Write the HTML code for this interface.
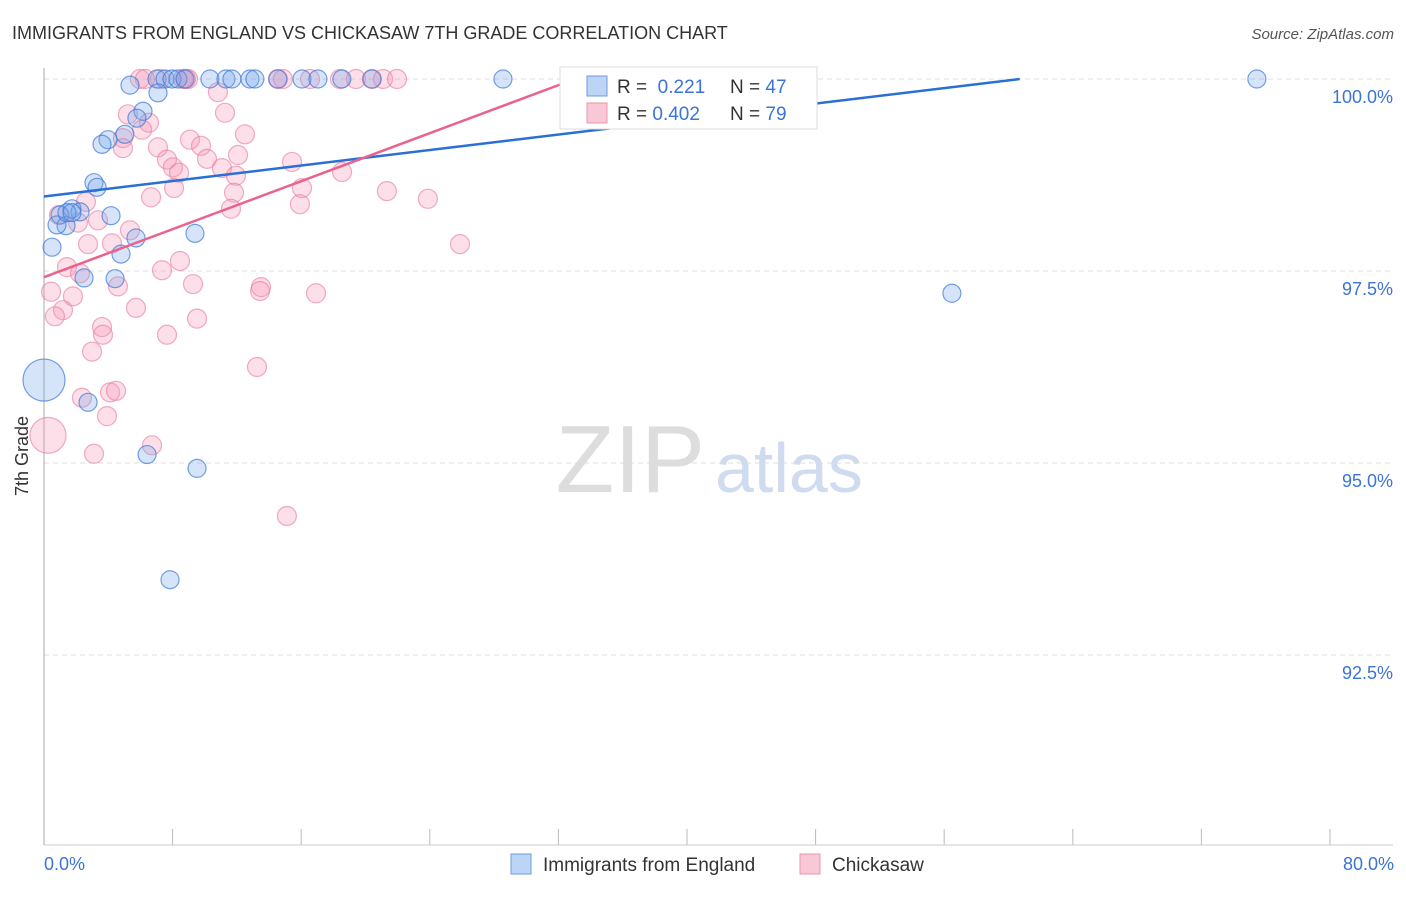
<!DOCTYPE html>
<html><head><meta charset="utf-8"><style>
body{margin:0;background:#fff;font-family:"Liberation Sans",sans-serif}
svg text{font-family:"Liberation Sans",sans-serif}
</style></head><body>
<svg id="c" width="1406" height="892">
<text x="12" y="39" font-size="18" fill="#333">IMMIGRANTS FROM ENGLAND VS CHICKASAW 7TH GRADE CORRELATION CHART</text>
<text x="1394" y="39" font-size="15" fill="#555" text-anchor="end" font-style="italic">Source: ZipAtlas.com</text>
<text x="705" y="492" font-size="96" fill="#ddd" text-anchor="end" font-family="Liberation Serif">ZIP</text>
<text x="715" y="492" font-size="70" fill="#cfdcf0">atlas</text>
<g id="grid"></g>
<line x1="44" y1="68" x2="44" y2="845" stroke="#aaa"/>
<line x1="44" y1="845" x2="1393" y2="845" stroke="#ccc"/>
<text x="28" y="456" font-size="18" fill="#333" text-anchor="middle" transform="rotate(-90 28 456)">7th Grade</text>
<text x="44" y="870" font-size="18" fill="#3b74d6">0.0%</text>
<text x="1394" y="870" font-size="18" fill="#3b74d6" text-anchor="end">80.0%</text>
<g id="pts"></g>
<g id="lines"></g>
<g>
<rect x="560" y="67" width="257" height="62" fill="#fff" stroke="#ddd"/>
<rect x="587" y="76" width="20" height="20" fill="#bcd4f5" stroke="#6b9be0"/>
<rect x="587" y="103" width="20" height="20" fill="#f9c8d6" stroke="#ea94ae"/>
<text x="617" y="93" font-size="19" fill="#333">R = <tspan fill="#3b74d6">&#160;0.221</tspan><tspan x="730">N = </tspan><tspan fill="#3b74d6">47</tspan></text>
<text x="617" y="120" font-size="19" fill="#333">R = <tspan fill="#3b74d6">0.402</tspan><tspan x="730">N = </tspan><tspan fill="#3b74d6">79</tspan></text>
</g>
<g>
<rect x="511" y="854" width="20" height="20" fill="#bcd4f5" stroke="#6b9be0"/>
<text x="543" y="871" font-size="19" fill="#333">Immigrants from England</text>
<rect x="800" y="854" width="20" height="20" fill="#f9c8d6" stroke="#ea94ae"/>
<text x="832" y="871" font-size="19" fill="#333">Chickasaw</text>
</g>
</svg>
<script>
const yTicks=[100,97.5,95,92.5];
const yTickLabels=["100.0%","97.5%","95.0%","92.5%"];
const xTicks=[0,8,16,24,32,40,48,56,64,72,80];
const blueX=[5.35,7.03,7.53,7.96,8.33,8.77,10.32,11.32,11.69,12.81,13.12,14.55,16.05,17.04,18.53,20.4,28.55,33.03,75.45,7.09,6.16,5.78,5.03,3.98,3.61,3.11,3.3,1.0,1.74,2.24,1.37,0.81,4.17,9.39,5.72,0.5,4.79,2.49,4.42,56.48,0,2.74,6.41,9.52,7.84,1.43,1.74];
const blueY=[99.92,100,100,100,100,100,100,100,100,100,100,100,100,100,100,100,100,100,100,99.82,99.58,99.49,99.28,99.21,99.15,98.65,98.59,98.23,98.31,98.27,98.09,98.1,98.22,97.99,97.93,97.81,97.72,97.41,97.4,97.21,96.08,95.79,95.11,94.93,93.48,98.26,98.26];
const pinkX=[5.97,6.28,7.22,8.65,8.96,14.55,14.86,16.55,18.41,19.41,20.4,21.09,21.96,36.82,8.83,10.82,11.26,5.22,6.53,6.1,12.5,4.91,4.91,7.09,9.08,9.77,10.14,12.07,7.65,8.02,8.4,11.07,11.94,15.43,18.54,8.09,11.82,16.05,21.33,23.88,6.66,15.92,11.63,2.61,0.93,2.11,3.36,4.23,2.74,5.35,25.88,1.43,2.24,7.34,8.46,4.6,9.27,13.5,13.44,16.92,0.44,1.8,5.72,1.18,0.68,9.52,3.61,3.67,7.65,2.99,13.25,2.36,4.11,4.48,3.92,0.25,3.11,6.72,15.11];
const pinkY=[100,100,100,100,100,100,100,100,100,100,100,100,100,100,100,99.83,99.56,99.54,99.43,99.34,99.28,99.23,99.1,99.11,99.21,99.13,98.96,99.01,98.95,98.85,98.78,98.84,98.74,98.92,98.79,98.58,98.52,98.58,98.54,98.44,98.46,98.37,98.31,98.4,98.23,98.13,98.16,97.86,97.85,98.03,97.85,97.55,97.47,97.51,97.63,97.3,97.33,97.29,97.24,97.21,97.23,97.17,97.02,96.99,96.91,96.88,96.77,96.67,96.67,96.45,96.25,95.85,95.92,95.94,95.61,95.36,95.12,95.23,94.31];
const blueTrend=[[0,98.47],[60.7,100]];
const pinkTrend=[[0,97.42],[33.03,100]];
const NS="http://www.w3.org/2000/svg";
const xs=v=>44+v/80*1286;
const ys=v=>79+(100-v)/2.5*192;
function mk(t,a,p){const e=document.createElementNS(NS,t);for(const k in a)e.setAttribute(k,a[k]);p.appendChild(e);return e;}
const grid=document.getElementById('grid');
yTicks.forEach((t,i)=>{
 const l=mk('line',{x1:44,x2:1393,y1:ys(t),y2:ys(t),stroke:'#ddd','stroke-dasharray':'5,4'},grid);
 
 
 const tx=mk('text',{x:1393,y:ys(t)+24,'font-size':18,fill:'#3b74d6','text-anchor':'end'},grid);
 tx.textContent=yTickLabels[i];
 
 
});
xTicks.forEach(t=>{
 const l=mk('line',{x1:xs(t),x2:xs(t),y1:829,y2:845,stroke:'#bbb'},grid);
 
 
});
const pts=document.getElementById('pts');
function big(x,y){return x<0.3&&y<96.5;}
pinkX.forEach((x,i)=>{
 const c=mk('circle',{cx:xs(x),cy:ys(pinkY[i]),r:big(x,pinkY[i])?18:9.5,fill:'rgba(244,150,180,0.3)',stroke:'rgba(232,120,155,0.6)','stroke-width':1.2},pts);
 
 
});
blueX.forEach((x,i)=>{
 const c=mk('circle',{cx:xs(x),cy:ys(blueY[i]),r:big(x,blueY[i])?21:9,fill:'rgba(120,165,235,0.3)',stroke:'rgba(60,120,215,0.7)','stroke-width':1.2},pts);
 
 
});
const lines=document.getElementById('lines');
const bl=mk('line',{x1:xs(blueTrend[0][0]),y1:ys(blueTrend[0][1]),x2:xs(blueTrend[1][0]),y2:ys(blueTrend[1][1]),stroke:'#2a6fd6','stroke-width':2.5},lines);


const pl=mk('line',{x1:xs(pinkTrend[0][0]),y1:ys(pinkTrend[0][1]),x2:xs(pinkTrend[1][0]),y2:ys(pinkTrend[1][1]),stroke:'#e8638e','stroke-width':2.5},lines);


</script>
</body></html>
